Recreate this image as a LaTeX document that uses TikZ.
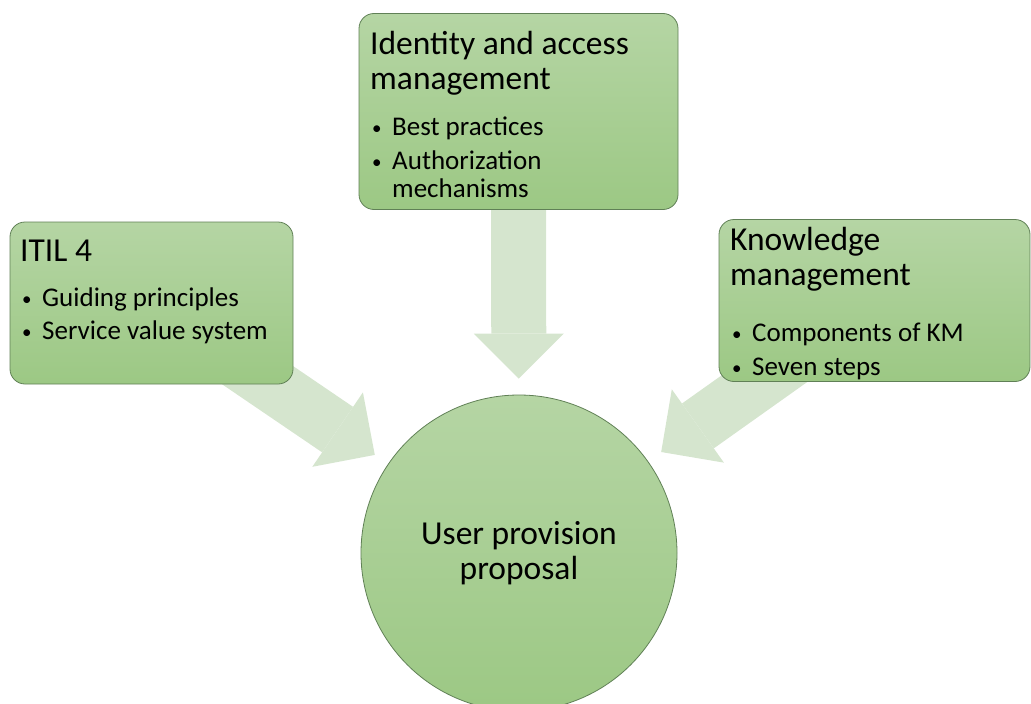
\documentclass[tikz,border=0pt]{standalone}
\usepackage{fontspec}
\setmainfont{Carlito}
\usetikzlibrary{arrows.meta,backgrounds}

\definecolor{boxtop}{RGB}{181,213,164}
\definecolor{boxbot}{RGB}{156,200,132}
\definecolor{boxline}{RGB}{96,128,86}
\definecolor{flowgreen}{RGB}{213,229,206}

\newcommand{\headfont}{\fontsize{33.5}{35}\selectfont}
\newcommand{\itemfont}{\fontsize{27}{28.5}\selectfont}
% one bullet line, hanging under its own text
\newcommand{\bul}[1]{\par\hangindent=22pt\hangafter=1\noindent
  \makebox[22pt][l]{\hspace{2pt}\raisebox{1pt}{\fontsize{19}{19}\selectfont\textbullet}}#1}
% heading, gap below it, then the bullets
\newcommand{\topic}[4]{%
  \begin{minipage}[t]{#1}\setlength{\parindent}{0pt}%
    {\headfont #2\par}%
    \vspace{#3}%
    \itemfont\setlength{\parskip}{5pt}#4%
  \end{minipage}}

\begin{document}
\begin{tikzpicture}[x=1pt,y=-1pt,
    topicbox/.style={draw=boxline, line width=.8pt, rounded corners=15pt,
      top color=boxtop, bottom color=boxbot, inner sep=0pt},
    topictext/.style={anchor=base west, inner sep=0pt},
    flow/.style={draw=flowgreen, line width=55pt, shorten >=16pt,
      -{Triangle[length=45pt,width=90pt,line width=0pt]}}]
\useasboundingbox (0,0) rectangle (1031,704);

% boxes
\node[topicbox, minimum width=283pt, minimum height=162pt] (itil) at (151.5,303) {};
\node[topicbox, minimum width=319pt, minimum height=196pt] (iam) at (518.5,111.5) {};
\node[topicbox, minimum width=311pt, minimum height=162pt] (km) at (874.5,300.5) {};

\node[topictext] (itilText) at (20,261)
  {\topic{265pt}{ITIL 4}{11.5pt}{\bul{Guiding principles}\bul{Service value system}}};
\node[topictext] (iamText) at (370,54)
  {\topic{300pt}{Identity and access\newline management}{13pt}%
    {\bul{Best practices}\bul{Authorization\newline mechanisms}}};
\node[topictext] (kmText) at (730,250)
  {\topic{295pt}{Knowledge\newline management}{23pt}%
    {\bul{Components of KM}\bul{Seven steps}}};

% centre
\node[circle, draw=boxline, line width=.8pt, top color=boxtop, bottom color=boxbot,
  inner sep=0pt, minimum size=316pt, align=center, font=\headfont] (user) at (519,553)
  {User provision\\proposal};

% arrows go under the boxes
\begin{scope}[on background layer]
  \draw[flow] (itil.center) -- (user);
  \draw[flow] (iam.center) -- (user);
  \draw[flow] (km.center) -- (user);
\end{scope}
\end{tikzpicture}
\end{document}
